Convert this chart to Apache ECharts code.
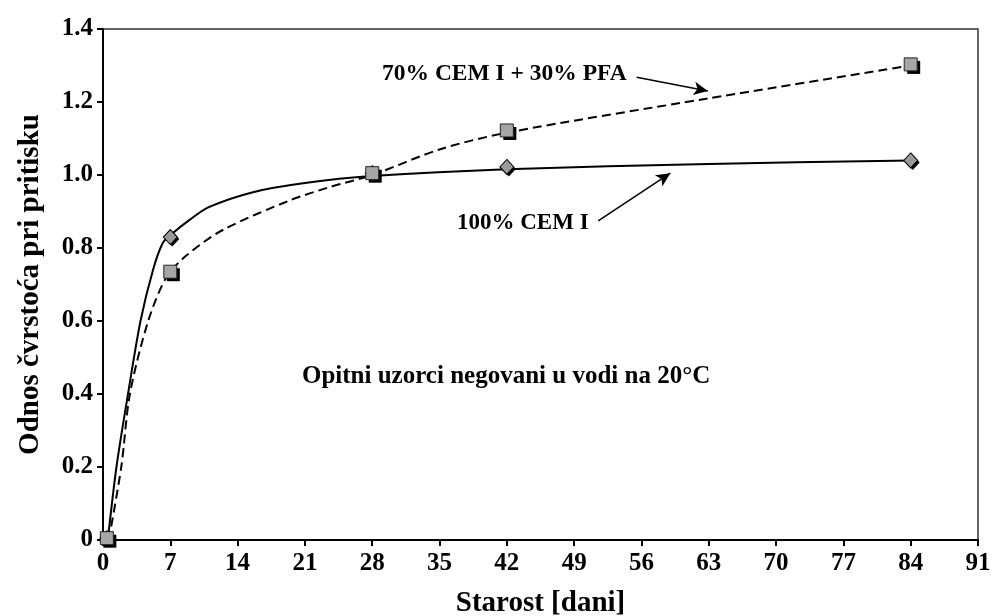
<!DOCTYPE html>
<html>
<head>
<meta charset="utf-8">
<script src="https://cdn.jsdelivr.net/npm/echarts@6/dist/echarts.min.js"></script>
<style>html,body{margin:0;padding:0;background:#fff}#c{width:992px;height:616px}</style>
</head>
<body>
<div id="c"></div>
<script>
// Measured points
const cemPoints = [[0.4, 0.005], [7, 0.83], [28, 1.005], [42, 1.022], [84, 1.04]];
const pfaPoints = [[0.4, 0.005], [7, 0.735], [28, 1.005], [42, 1.122], [84, 1.303]];
// Trend curves
const cemCurve = [[0.5, 0], [1.4, 0.2], [2.6, 0.4], [3.9, 0.6], [5.2, 0.74], [6.2, 0.813], [7, 0.835], [9, 0.877], [11, 0.912], [15.6, 0.953], [21, 0.978], [28, 0.997], [42, 1.016], [63, 1.03], [84, 1.04]];
const pfaCurve = [[0.6, 0], [1.9, 0.2], [2.8, 0.4], [4.7, 0.6], [6.6, 0.72], [8.7, 0.78], [12.5, 0.85], [19.4, 0.93], [23.6, 0.967], [28, 1.0], [35, 1.07], [42, 1.116], [63, 1.21], [84, 1.3]];
const xTicks = [0, 7, 14, 21, 28, 35, 42, 49, 56, 63, 70, 77, 84, 91];
const yTicks = [0, 0.2, 0.4, 0.6, 0.8, 1.0, 1.2, 1.4];

const FONT = '"Liberation Serif", serif';
const chart = echarts.init(document.getElementById('c'));
chart.setOption({
  animation: false,
  backgroundColor: '#fff',
  grid: {left: 103, right: 14, top: 29, bottom: 76, show: true, borderColor: '#333', borderWidth: 1.5,
         containLabel: false, outerBoundsMode: 'none'},
  xAxis: {
    type: 'value', min: 0, max: 91, interval: 7,
    name: 'Starost [dani]', nameLocation: 'middle', nameGap: 49,
    nameTextStyle: {fontFamily: FONT, fontWeight: 'bold', fontSize: 29, color: '#000'},
    axisLine: {lineStyle: {color: '#000', width: 2}},
    axisTick: {show: true, length: 6, lineStyle: {color: '#000', width: 2}},
    axisLabel: {fontFamily: FONT, fontWeight: 'bold', fontSize: 25, color: '#000', margin: 11},
    splitLine: {show: false}
  },
  yAxis: {
    type: 'value', min: 0, max: 1.4, interval: 0.2,
    name: 'Odnos čvrstoća pri pritisku', nameLocation: 'middle', nameGap: 58, nameRotate: 90,
    nameTextStyle: {fontFamily: FONT, fontWeight: 'bold', fontSize: 29, color: '#000'},
    axisLine: {show: true, lineStyle: {color: '#000', width: 2}},
    axisTick: {show: true, length: 6, lineStyle: {color: '#000', width: 2}},
    axisLabel: {fontFamily: FONT, fontWeight: 'bold', fontSize: 25, color: '#000', margin: 10,
      formatter: v => v === 0 ? '0' : v.toFixed(1)},
    splitLine: {show: false}
  },
  series: [
    {type: 'line', data: cemCurve, smooth: 0.3, showSymbol: false, lineStyle: {color: '#000', width: 2}, z: 2,
     markLine: {silent: true, symbol: ['none', 'arrow'], symbolSize: [10, 14], label: {show: false},
       lineStyle: {color: '#000', width: 1.5, type: 'solid'},
       data: [[{coord: [51.5, 0.874]}, {coord: [59.0, 1.005]}], [{coord: [55.5, 1.268]}, {coord: [62.9, 1.23]}]]}},
    {type: 'line', data: pfaCurve, smooth: 0.3, showSymbol: false, lineStyle: {color: '#000', width: 2, type: [9, 5]}, z: 2},
    // shadows
    {type: 'scatter', data: cemPoints, symbol: 'diamond', symbolSize: [14, 15], symbolOffset: [2, 2], z: 3,
     itemStyle: {color: '#000', opacity: 1}},
    {type: 'scatter', data: cemPoints, symbol: 'diamond', symbolSize: [14, 15], z: 4,
     itemStyle: {color: '#9a9a9a', borderColor: '#000', borderWidth: 1, opacity: 1}},
    {type: 'scatter', data: pfaPoints, symbol: 'rect', symbolSize: 13, symbolOffset: [3, 3], z: 5,
     itemStyle: {color: '#000', opacity: 1}},
    {type: 'scatter', data: pfaPoints, symbol: 'rect', symbolSize: 13, z: 6,
     itemStyle: {color: '#a6a6a6', borderColor: '#222', borderWidth: 1, opacity: 1}}
  ],
  graphic: [
    {type: 'text', left: 382, top: 62, style: {text: '70% CEM I + 30% PFA', fontFamily: FONT, fontWeight: 'bold', fontSize: 23.5, fill: '#000'}},
    {type: 'text', left: 457, top: 212, style: {text: '100% CEM I', fontFamily: FONT, fontWeight: 'bold', fontSize: 23, fill: '#000'}},
    {type: 'text', left: 302, top: 364, style: {text: 'Opitni uzorci negovani u vodi na 20°C', fontFamily: FONT, fontWeight: 'bold', fontSize: 25, fill: '#000'}}
  ]
});
</script>
</body>
</html>
